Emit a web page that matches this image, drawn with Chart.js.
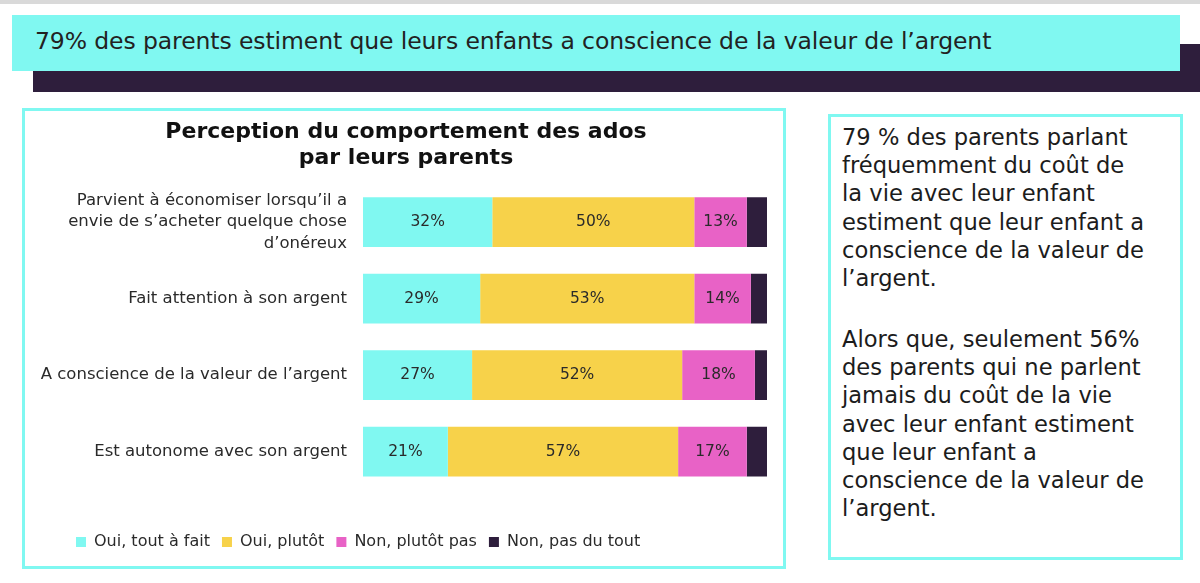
<!DOCTYPE html>
<html>
<head>
<meta charset="utf-8">
<script src="https://cdn.jsdelivr.net/npm/chart.js@4"></script>
<style>
  body { margin: 0; width: 1200px; height: 583px; background: #fff; position: relative; overflow: hidden; font-family: "DejaVu Sans", sans-serif; color: #1c1c1c; }
  .topline { position: absolute; left: 0; top: 0; width: 1200px; height: 4px; background: #d9d9d9; }
  .shadow { position: absolute; left: 33px; top: 44px; width: 1167px; height: 48px; background: #2e1e3c; }
  .banner { position: absolute; left: 12px; top: 15px; width: 1168px; height: 56px; background: #80f8f1; }
  .banner span { position: absolute; left: 23px; top: 12px; font-size: 23.5px; color: #222; white-space: nowrap; letter-spacing: -0.1px; }
  .panel { position: absolute; left: 22px; top: 108px; width: 758px; height: 455px; border: 3px solid #80f8f1; }
  .panel canvas { position: absolute; left: 0; top: 0; }
  .side { position: absolute; left: 828px; top: 114px; width: 349px; height: 440px; border: 3px solid #80f8f1; }
  .side p { margin: 0; position: absolute; left: 11px; font-size: 22.6px; line-height: 28.2px; color: #1c1c1c; white-space: nowrap; }
</style>
</head>
<body>
<div class="topline"></div>
<div class="shadow"></div>
<div class="banner"><span>79% des parents estiment que leurs enfants a conscience de la valeur de l’argent</span></div>
<div class="panel"><canvas id="chart" width="758" height="455"></canvas></div>
<div class="side">
  <p style="top: 6px">79 % des parents parlant<br>fréquemment du coût de<br>la vie avec leur enfant<br>estiment que leur enfant a<br>conscience de la valeur de<br>l’argent.</p>
  <p style="top: 208px">Alors que, seulement 56%<br>des parents qui ne parlent<br>jamais du coût de la vie<br>avec leur enfant estiment<br>que leur enfant a<br>conscience de la valeur de<br>l’argent.</p>
</div>
<script>
const categories = [
  ['Parvient à économiser lorsqu’il a', 'envie de s’acheter quelque chose', 'd’onéreux'],
  'Fait attention à son argent',
  'A conscience de la valeur de l’argent',
  'Est autonome avec son argent'
];
const seriesNames = ['Oui, tout à fait', 'Oui, plutôt', 'Non, plutôt pas', 'Non, pas du tout'];
const ouiTout = [32, 29, 27, 21];
const ouiPlutot = [50, 53, 52, 57];
const nonPlutot = [13, 14, 18, 17];
const nonPasDuTout = [5, 4, 3, 5];
const colors = ['#80f8f1', '#f7d24a', '#e862c6', '#2e1e3c'];

// percentages written inside the first three segments
const barLabels = {
  id: 'barLabels',
  afterDatasetsDraw(chart) {
    const ctx = chart.ctx;
    ctx.save();
    ctx.font = '15.5px "DejaVu Sans"';
    ctx.fillStyle = '#2a2a2a';
    ctx.textAlign = 'center';
    ctx.textBaseline = 'middle';
    chart.data.datasets.forEach((ds, i) => {
      if (i > 2) return;
      chart.getDatasetMeta(i).data.forEach((bar, j) => {
        ctx.fillText(ds.data[j] + '%', (bar.x + bar.base) / 2, bar.y);
      });
    });
    ctx.restore();
  }
};

// nudge title and legend to where they sit in the panel
const nudge = {
  id: 'nudge',
  afterLayout(chart) {
    chart.titleBlock.left += 10;
    chart.titleBlock.right += 10;
    chart.legend.left += 39;
    chart.legend.right += 39;
  }
};

const ctx = document.getElementById('chart').getContext('2d');
new Chart(ctx, {
  type: 'bar',
  data: {
    labels: categories,
    datasets: [ouiTout, ouiPlutot, nonPlutot, nonPasDuTout].map((d, i) => ({
      label: seriesNames[i],
      data: d,
      backgroundColor: colors[i],
      borderWidth: 0,
      barPercentage: 0.65,
      categoryPercentage: 1
    }))
  },
  options: {
    indexAxis: 'y',
    responsive: false,
    animation: false,
    layout: { padding: { left: 0, right: 16, top: 0, bottom: 6 } },
    scales: {
      x: { stacked: true, display: false, min: 0, max: 100 },
      y: {
        stacked: true,
        grid: { display: false },
        border: { display: false },
        afterFit: (s) => { s.width = 338; },
        ticks: {
          color: '#2a2a2a',
          padding: 8,
          font: { family: 'DejaVu Sans', size: 16.5, lineHeight: 1.3 }
        }
      }
    },
    plugins: {
      title: {
        display: true,
        text: ['Perception du comportement des ados', 'par leurs parents'],
        color: '#111',
        font: { family: 'DejaVu Sans', size: 22, weight: 'bold', lineHeight: 1.2 },
        padding: { top: 8, bottom: 12 }
      },
      legend: {
        position: 'bottom',
        align: 'start',
        title: { display: true, text: ' ', color: 'rgba(0,0,0,0)', font: { size: 10 }, padding: 10 },
        labels: {
          color: '#2a2a2a',
          boxWidth: 10,
          boxHeight: 10,
          padding: 12,
          font: { family: 'DejaVu Sans', size: 16 }
        }
      },
      tooltip: { enabled: false }
    }
  },
  plugins: [barLabels, nudge]
});
</script>
</body>
</html>
